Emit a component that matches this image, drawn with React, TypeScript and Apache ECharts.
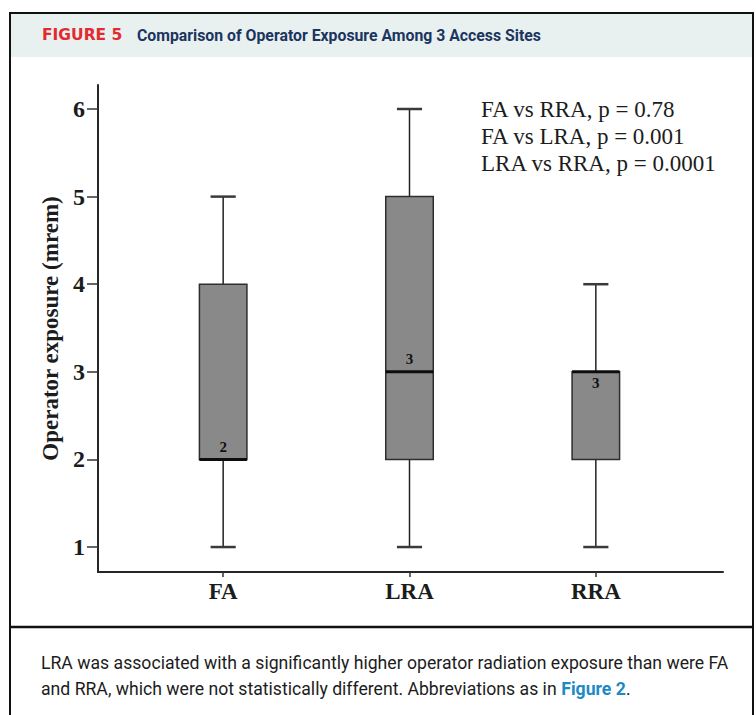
import React, { useEffect, useRef } from 'react';
import * as echarts from 'echarts';

const categories = ['FA', 'LRA', 'RRA'];
const whiskerLow = [1, 1, 1];
const quartile1 = [2, 2, 2];
const medians = [2, 3, 3];
const quartile3 = [4, 5, 3];
const whiskerHigh = [5, 6, 4];
const yTickValues = [1, 2, 3, 4, 5, 6];
const pValueNotes = ['FA vs RRA, p = 0.78', 'FA vs LRA, p = 0.001', 'LRA vs RRA, p = 0.0001'];
const figureLabel = 'FIGURE 5';
const figureTitle = 'Comparison of Operator Exposure Among 3 Access Sites';
const yAxisTitle = 'Operator exposure (mrem)';
const captionLine1 = 'LRA was associated with a significantly higher operator radiation exposure than were FA';
const captionLine2 = 'and RRA, which were not statistically different. Abbreviations as in ';
const captionLink = 'Figure 2';

const Y_MIN = 0.715;
const Y_MAX = 6.274;
const SERIF = '"Liberation Serif", "Times New Roman", serif';
const SANS = 'Roboto, "Noto Sans", sans-serif';
const INK = '#1c1c1c';

export default function App() {
  const ref = useRef<HTMLDivElement>(null);

  useEffect(() => {
    document.body.style.margin = '0';
    const chart = echarts.init(ref.current!, null, { renderer: 'svg' });

    const boxData = categories.map((_, i) => [
      i,
      whiskerLow[i],
      quartile1[i],
      medians[i],
      quartile3[i],
      whiskerHigh[i],
    ]);

    const option: any = {
      animation: false,
      backgroundColor: '#ffffff',
      grid: [
        { left: 98, right: 33, top: 85, bottom: 143 },
        { left: 130, right: 67, top: 85, bottom: 143 },
      ],
      xAxis: [
        {
          gridIndex: 0,
          type: 'value',
          min: 0,
          max: 1,
          axisLine: { show: true, onZero: false, lineStyle: { color: '#262626', width: 2 } },
          axisTick: { show: false },
          axisLabel: { show: false },
          splitLine: { show: false },
        },
        {
          gridIndex: 1,
          type: 'category',
          data: categories,
          boundaryGap: true,
          axisLine: { show: false },
          axisTick: { show: true, alignWithLabel: true, length: 5, lineStyle: { color: '#333', width: 1.5 } },
          axisLabel: { fontFamily: SERIF, fontWeight: 'bold', fontSize: 23, color: INK, margin: 8 },
          splitLine: { show: false },
        },
      ],
      yAxis: [
        {
          gridIndex: 0,
          type: 'value',
          min: Y_MIN,
          max: Y_MAX,
          axisLine: { show: true, lineStyle: { color: '#262626', width: 2 } },
          axisTick: { show: true, length: 11, customValues: yTickValues, lineStyle: { color: '#333', width: 1.5 } },
          axisLabel: {
            customValues: yTickValues,
            fontFamily: SERIF,
            fontWeight: 'bold',
            fontSize: 24,
            color: INK,
            margin: 13,
          },
          splitLine: { show: false },
          name: yAxisTitle,
          nameLocation: 'middle',
          nameGap: 36,
          nameTextStyle: { fontFamily: SERIF, fontWeight: 'bold', fontSize: 23, color: INK },
        },
        { gridIndex: 1, type: 'value', min: Y_MIN, max: Y_MAX, show: false },
      ],
      series: [
        {
          type: 'custom',
          xAxisIndex: 1,
          yAxisIndex: 1,
          data: boxData,
          encode: { x: 0, y: [1, 2, 3, 4, 5] },
          renderItem: (params: any, api: any) => {
            const idx = api.value(0);
            const cx = api.coord([idx, 0])[0];
            const yOf = (v: number) => api.coord([idx, v])[1];
            const band = api.size([1, 0])[0];
            const boxW = band * 0.255;
            const capW = band * 0.135;
            const lo = yOf(api.value(1));
            const q1 = yOf(api.value(2));
            const med = yOf(api.value(3));
            const q3 = yOf(api.value(4));
            const hi = yOf(api.value(5));
            const medAtTop = api.value(3) === api.value(4);
            const whisker = { stroke: '#222', lineWidth: 1.5 };
            const cap = { stroke: '#3a3a3a', lineWidth: 2.5 };
            return {
              type: 'group',
              children: [
                { type: 'line', shape: { x1: cx, y1: hi, x2: cx, y2: q3 }, style: whisker },
                { type: 'line', shape: { x1: cx, y1: q1, x2: cx, y2: lo }, style: whisker },
                { type: 'line', shape: { x1: cx - capW / 2, y1: hi, x2: cx + capW / 2, y2: hi }, style: cap },
                { type: 'line', shape: { x1: cx - capW / 2, y1: lo, x2: cx + capW / 2, y2: lo }, style: cap },
                {
                  type: 'rect',
                  shape: { x: cx - boxW / 2, y: q3, width: boxW, height: q1 - q3 },
                  style: { fill: '#898989', stroke: '#2e2e2e', lineWidth: 1.5 },
                },
                {
                  type: 'line',
                  shape: { x1: cx - boxW / 2, y1: med, x2: cx + boxW / 2, y2: med },
                  style: { stroke: '#0d0d0d', lineWidth: 3 },
                },
                {
                  type: 'text',
                  x: cx,
                  y: medAtTop ? med + 4 : med - 5,
                  style: {
                    text: String(api.value(3)),
                    align: 'center',
                    verticalAlign: medAtTop ? 'top' : 'bottom',
                    fontFamily: SERIF,
                    fontWeight: 'bold',
                    fontSize: 15,
                    fill: '#111',
                  },
                },
              ],
            };
          },
        },
      ],
      graphic: [
        { type: 'rect', shape: { x: 10, y: 13, width: 743, height: 44 }, style: { fill: '#e8f1f0' } },
        {
          type: 'rect',
          shape: { x: 10, y: 13, width: 743, height: 720 },
          style: { fill: 'none', stroke: '#111', lineWidth: 2 },
        },
        { type: 'line', shape: { x1: 10, y1: 627, x2: 753, y2: 627 }, style: { stroke: '#111', lineWidth: 2.5 } },
        {
          type: 'text',
          x: 42,
          y: 35,
          style: {
            text: figureLabel,
            fontFamily: '"DejaVu Sans", sans-serif',
            fontWeight: 'bold',
            fontSize: 15.5,
            fill: '#e42a2f',
            align: 'left',
            verticalAlign: 'middle',
          },
        },
        {
          type: 'text',
          x: 137,
          y: 35,
          scaleX: 0.93,
          style: {
            text: figureTitle,
            fontFamily: SANS,
            fontWeight: 'bold',
            fontSize: 17,
            fill: '#1b355f',
            align: 'left',
            verticalAlign: 'middle',
          },
        },
        {
          type: 'text',
          x: 481,
          y: 95.5,
          style: {
            text: pValueNotes.join('\n'),
            fontFamily: SERIF,
            fontSize: 23,
            lineHeight: 27,
            fill: INK,
            align: 'left',
            verticalAlign: 'top',
          },
        },
        {
          type: 'text',
          x: 41,
          y: 662,
          scaleX: 0.98,
          style: {
            text: captionLine1,
            fontFamily: SANS,
            fontSize: 18,
            fill: INK,
            align: 'left',
            verticalAlign: 'middle',
          },
        },
        {
          type: 'text',
          x: 41,
          y: 688,
          scaleX: 0.98,
          style: {
            text: captionLine2 + '{b|' + captionLink + '}.',
            fontFamily: SANS,
            fontSize: 18,
            fill: INK,
            align: 'left',
            verticalAlign: 'middle',
            rich: {
              b: { fontFamily: SANS, fontSize: 18, fontWeight: 'bold', fill: '#1b8ac5' },
            },
          },
        },
      ],
    };

    chart.setOption(option);
    return () => chart.dispose();
  }, []);

  return <div ref={ref} style={{ width: 756, height: 715 }} />;
}
